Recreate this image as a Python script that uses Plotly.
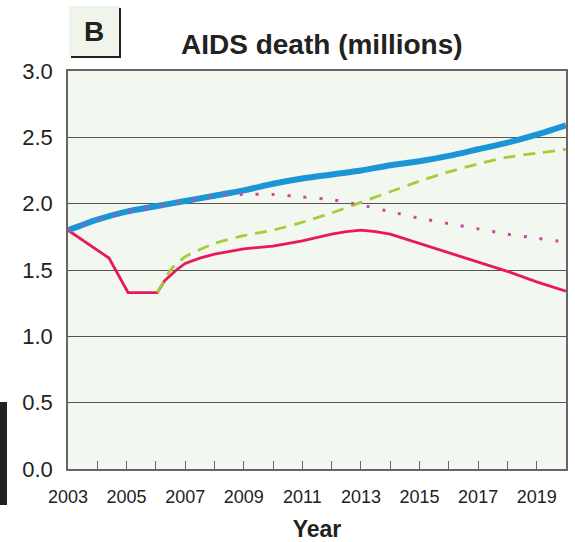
import plotly.graph_objects as go

# ---- data ----
blue_years = [2003, 2004, 2005, 2006, 2007, 2008, 2009, 2010, 2011, 2012, 2013, 2014, 2015, 2016, 2017, 2018, 2019, 2020]
blue_vals = [1.80, 1.88, 1.94, 1.98, 2.02, 2.06, 2.10, 2.15, 2.19, 2.22, 2.25, 2.29, 2.32, 2.36, 2.41, 2.46, 2.52, 2.59]

pink_years = [2003, 2004, 2005, 2006, 2007, 2008, 2009, 2010, 2011, 2012, 2013, 2014, 2015, 2016, 2017, 2018, 2019, 2020]
pink_vals = [1.80, 1.88, 1.94, 1.98, 2.02, 2.06, 2.07, 2.07, 2.05, 2.03, 1.99, 1.94, 1.89, 1.85, 1.81, 1.77, 1.74, 1.71]

green_years = [2006.05, 2006.5, 2007, 2008, 2009, 2010, 2011, 2012, 2013, 2014, 2015, 2016, 2017, 2018, 2019, 2020]
green_vals = [1.33, 1.50, 1.60, 1.70, 1.76, 1.80, 1.86, 1.93, 2.01, 2.09, 2.17, 2.24, 2.30, 2.35, 2.38, 2.41]

red_years = [2003, 2004.4, 2005.05, 2006.05, 2006.3, 2006.7, 2007, 2007.5, 2008, 2009, 2010, 2011, 2012, 2012.5, 2013, 2013.5, 2014, 2015, 2016, 2017, 2018, 2019, 2020]
red_vals = [1.80, 1.59, 1.33, 1.33, 1.42, 1.50, 1.55, 1.59, 1.62, 1.66, 1.68, 1.72, 1.77, 1.79, 1.80, 1.79, 1.77, 1.70, 1.63, 1.56, 1.49, 1.41, 1.34]

x_tick_years = list(range(2003, 2021))
x_tick_labels = [str(y) if y % 2 == 1 else "" for y in x_tick_years]
y_tick_vals = [0.0, 0.5, 1.0, 1.5, 2.0, 2.5, 3.0]
y_tick_labels = ["0.0", "0.5", "1.0", "1.5", "2.0", "2.5", "3.0"]

W, H = 575, 542
L, R, T, B = 68, 9, 71, 73
pw, ph = W - L - R, H - T - B

def px(xp):
    return (xp - L) / pw

def py(yp):
    return 1 - (yp - T) / ph

fig = go.Figure()
fig.add_trace(go.Scatter(x=red_years, y=red_vals, mode="lines",
                         line=dict(color="#e8195a", width=2.8), showlegend=False))
fig.add_trace(go.Scatter(x=green_years, y=green_vals, mode="lines",
                         line=dict(color="#a6cc3a", width=2.8, dash="12px,8px", shape="spline", smoothing=0.6),
                         showlegend=False))
fig.add_trace(go.Scatter(x=blue_years, y=blue_vals, mode="lines",
                         line=dict(color="#1a96d6", width=6, shape="spline", smoothing=0.6), showlegend=False))
fig.add_trace(go.Scatter(x=pink_years, y=pink_vals, mode="lines",
                         line=dict(color="#c34aa6", width=3, dash="3px,13px", shape="spline", smoothing=0.6),
                         showlegend=False))

fig.update_layout(
    width=W, height=H,
    margin=dict(l=L, r=R, t=T, b=B),
    paper_bgcolor="white",
    plot_bgcolor="#f2f7ef",
    font=dict(family="Liberation Sans, Arial, sans-serif", color="#222"),
    xaxis=dict(range=[2003, 2020], tickmode="array", tickvals=x_tick_years, ticktext=x_tick_labels,
               ticks="inside", ticklen=8, tickcolor="#666", tickwidth=1, ticklabelstandoff=11,
               showgrid=False, zeroline=False, showline=True, linecolor="#666", linewidth=1.5, mirror=True,
               automargin=False,
               tickfont=dict(size=18), title=dict(text="<b>Year</b>", font=dict(size=23), standoff=18)),
    yaxis=dict(range=[0, 3.0], tickmode="array", tickvals=y_tick_vals, ticktext=y_tick_labels,
               showgrid=True, gridcolor="#555", gridwidth=1, zeroline=False,
               showline=True, linecolor="#666", linewidth=1.5, mirror=True, automargin=False,
               ticks="outside", ticklen=9, tickcolor="rgba(0,0,0,0)", tickfont=dict(size=22)),
    shapes=[
        dict(type="rect", xref="paper", yref="paper", x0=px(69), x1=px(120), y0=py(57), y1=py(6),
             fillcolor="#f0f5ec", line=dict(width=0), layer="above"),
        dict(type="line", xref="paper", yref="paper", x0=px(120), x1=px(120), y0=py(57), y1=py(8),
             line=dict(color="#222", width=2)),
        dict(type="line", xref="paper", yref="paper", x0=px(71), x1=px(121), y0=py(57), y1=py(57),
             line=dict(color="#222", width=2)),
        dict(type="rect", xref="paper", yref="paper", x0=px(0), x1=px(7), y0=py(505), y1=py(402),
             fillcolor="#222", line=dict(width=0)),
    ],
    annotations=[
        dict(text="<b>B</b>", xref="paper", yref="paper", x=px(94), y=py(32),
             showarrow=False, font=dict(size=28, color="#222"), xanchor="center", yanchor="middle"),
        dict(text="<b>AIDS death (millions)</b>", xref="paper", yref="paper", x=px(322), y=py(44),
             showarrow=False, font=dict(size=28, color="#222"), xanchor="center", yanchor="middle"),
    ],
)

fig.write_html("out.html", config={"displayModeBar": False},
               post_script="document.body.style.margin='0';document.body.style.padding='0';")
